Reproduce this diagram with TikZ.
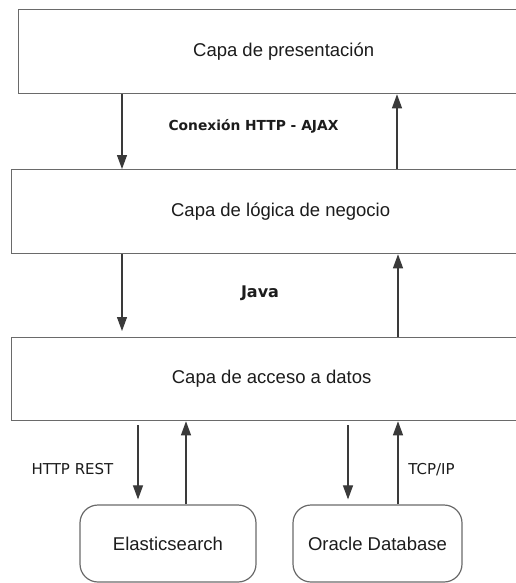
\documentclass[tikz,border=0pt]{standalone}
\usepackage{fontspec}
\setmainfont{Liberation Sans}
\newfontfamily\dejavu{DejaVu Sans}
\usetikzlibrary{arrows.meta}
\definecolor{boxline}{HTML}{6A6A6A}
\definecolor{arrline}{HTML}{3A3A3A}
\definecolor{txt}{HTML}{1C1C1C}
\begin{document}
\begin{tikzpicture}[x=1pt,y=-1pt,
  layerbox/.style={draw=boxline, line width=1.3pt, inner sep=0pt, anchor=north west,
    text=txt, font=\fontsize{18.5pt}{22pt}\selectfont},
  dbbox/.style={draw=boxline, line width=1.2pt, rounded corners=18pt, inner sep=0pt,
    text=txt, font=\fontsize{18.5pt}{22pt}\selectfont},
  arr/.style={draw=arrline, line width=1.1pt, -{Triangle[length=14pt,width=10pt]}},
  boldlbl/.style={anchor=base, text=txt, inner sep=0pt},
  plainlbl/.style={anchor=base, text=txt, inner sep=0pt, font=\dejavu\fontsize{15pt}{18pt}\selectfont}
]
\useasboundingbox (0,0) rectangle (516,583);
\clip (0,0) rectangle (516,583);
\fill[white] (0,0) rectangle (516,583);

% layers
\node[layerbox, minimum width=530pt, minimum height=84pt] (b1) at (18,9) {Capa de presentación};
\node[layerbox, minimum width=538pt, minimum height=84pt] (b2) at (11,169) {Capa de lógica de negocio};
\node[layerbox, minimum width=520pt, minimum height=83pt] (b3) at (11,337) {Capa de acceso a datos};

% data stores
\node[dbbox, minimum width=176pt, minimum height=77pt] (es) at (168,543.5) {Elasticsearch};
\node[dbbox, minimum width=169pt, minimum height=77pt] (ora) at (377.5,543.5) {Oracle Database};

% arrow positions
\coordinate (xa) at (122,0);
\coordinate (xb) at (397,0);
\coordinate (xc) at (138,0);
\coordinate (xd) at (186,0);
\coordinate (xe) at (348,0);
\coordinate (xf) at (398,0);

% presentation <-> business
\draw[arr] (xa |- b1.south) -- (xa |- b2.north);
\draw[arr] (xb |- b2.north) -- (xb |- b1.south);
% business <-> data access
\draw[arr, shorten >=6pt] (xa |- b2.south) -- (xa |- b3.north);
\draw[arr] (xf |- b3.north) -- (xf |- b2.south);
% data access <-> stores
\draw[arr, shorten <=4pt, shorten >=5pt] (xc |- b3.south) -- (xc |- es.north);
\draw[arr] (xd |- es.north) -- (xd |- b3.south);
\draw[arr, shorten <=4pt, shorten >=5pt] (xe |- b3.south) -- (xe |- ora.north);
\draw[arr] (xf |- ora.north) -- (xf |- b3.south);

% labels
\node[boldlbl, font=\dejavu\bfseries\fontsize{13.8pt}{16pt}\selectfont] (ajax) at (253.5,130.7) {Conexión HTTP - AJAX};
\node[boldlbl, font=\dejavu\bfseries\fontsize{16pt}{19pt}\selectfont] (java) at (260,297.7) {Java};
\node[plainlbl] (rest) at (72.5,474) {HTTP REST};
\node[plainlbl] (tcp) at (431.5,474) {TCP/IP};
\end{tikzpicture}
\end{document}
